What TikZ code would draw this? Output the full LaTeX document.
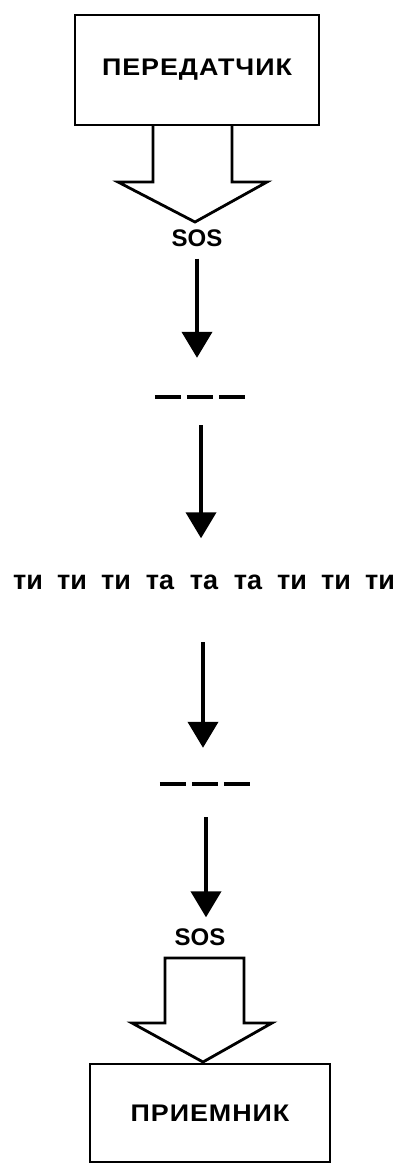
\documentclass[tikz,border=0pt]{standalone}
\usepackage{fontspec}
\setmainfont{Liberation Sans}
\usetikzlibrary{arrows.meta}

\tikzset{
  unit/.style={draw, line width=2.8pt, inner sep=0pt,
    font=\bfseries\fontsize{24}{28}\selectfont\addfontfeature{FakeStretch=1.12,LetterSpace=4}},
  signal/.style={inner sep=0pt, font=\bfseries\fontsize{24}{28}\selectfont},
  morseword/.style={inner sep=0pt, anchor=base, font=\bfseries\fontsize{27}{30}\selectfont},
  morsebar/.style={inner sep=0pt, minimum width=90pt, minimum height=0pt},
  morse/.style={line width=4pt, dash pattern=on 26pt off 6pt},
  flow/.style={line width=4pt, -{Triangle[width=30pt,length=26pt]}},
  hollow/.style={line width=2.8pt, line join=miter},
}

\begin{document}
\begin{tikzpicture}[x=1pt,y=-1pt]
  \useasboundingbox (0,0) rectangle (398,1164);

  % transmitter
  \node[unit, minimum width=244pt, minimum height=110pt] (tx) at (197,70) {ПЕРЕДАТЧИК};
  \draw[hollow] (153,125) -- (153,182) -- (118,182) -- (195,222) -- (267,182) -- (232,182) -- (232,125);
  \node[signal] (sos1) at (197,238) {SOS};

  % dashes
  \node[morsebar] (m1) at (200,397) {};
  \draw[morse] (m1.west) -- (m1.east);

  % morse words
  \node[morseword] (w1) at (28,589) {ти};
  \node[morseword] (w2) at (72,589) {ти};
  \node[morseword] (w3) at (116,589) {ти};
  \node[morseword] (w4) at (160,589) {та};
  \node[morseword] (w5) at (204,589) {та};
  \node[morseword] (w6) at (248,589) {та};
  \node[morseword] (w7) at (292,589) {ти};
  \node[morseword] (w8) at (336,589) {ти};
  \node[morseword] (w9) at (380,589) {ти};

  \node[morsebar] (m2) at (205,784) {};
  \draw[morse] (m2.west) -- (m2.east);

  % receiver
  \node[signal] (sos2) at (200,937) {SOS};
  \draw[hollow] (165,1023) -- (165,958) -- (244,958) -- (244,1023) -- (272,1023) -- (203,1062) -- (132,1023) -- cycle;
  \node[unit, minimum width=240pt, minimum height=98pt] (rx) at (210,1113) {ПРИЕМНИК};

  \draw[flow, shorten <=12pt, shorten >=39pt] (sos1.south) -- (sos1.south |- m1.north);
  \draw[flow, shorten <=28pt, shorten >=36pt] ([xshift=1pt]m1.south) -- ([xshift=1pt]m1.south |- w5.north);
  \draw[flow, shorten <=53pt, shorten >=36pt] ([xshift=-1pt]w5.south) -- ([xshift=-1pt]w5.south |- m2.north);
  \draw[flow, shorten <=33pt, shorten >=11pt] ([xshift=1pt]m2.south) -- ([xshift=1pt]m2.south |- sos2.north);
\end{tikzpicture}
\end{document}
